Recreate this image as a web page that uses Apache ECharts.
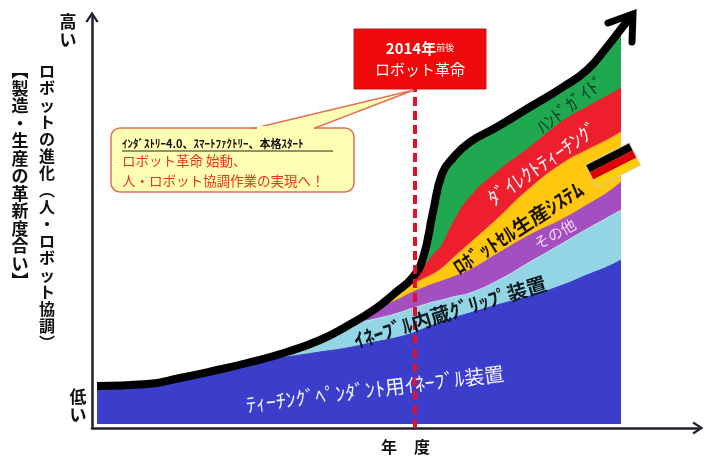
<!DOCTYPE html>
<html>
<head>
<meta charset="utf-8">
<style>html,body{margin:0;padding:0;background:#fff}#chart{width:709px;height:456px}</style>
<script src="https://cdn.jsdelivr.net/npm/echarts@6/dist/echarts.min.js"></script>
</head>
<body>
<div id="chart"></div>
<script>
// Fiscal-year position along the horizontal axis
const years = [5,55,88,121,155,195,228,255,283,303,321,331,341,350,361,378,405,438,471,495,515,529];
// Contribution of each technology to the innovation index
const pendantEnable = [38,40,46,53,61,67,72,76,82,86,91,95,99,102,106,111,119,128,139,149,157,164];
const gripEnable    = [0,0,0,0,0,5,12,22,23,24,25,24,23,22,21,20,24,34,42,46,49,50];
const others        = [0,0,0,0,0,0,0,0,10,13,16,17,18,19,20,23,27,27,24,24,25,28];
const robotCell     = [0,0,0,0,0,0,0,0,0,8,8,9,10,13,19,27,35,47,56,55,53,50];
const directTeach   = [0,0,0,0,0,0,0,0,0,0,7,11,19,23,35,46,47,41,42,43,44,44];
const handGuide     = [0,0,0,0,0,0,0,0,0,0,0,10,43,71,65,55,45,40,34,37,49,59];
const revolutionYear = 323;
const curveTip = [541, 410];
const arrowBarbs = [[516, 401], curveTip, [540, 382]];

const layerNames = ['ﾃｨｰﾁﾝｸﾞﾍﾟﾝﾀﾞﾝﾄ用ｲﾈｰﾌﾞﾙ装置','ｲﾈｰﾌﾞﾙ内蔵ｸﾞﾘｯﾌﾟ装置','その他','ﾛﾎﾞｯﾄｾﾙ生産ｼｽﾃﾑ','ﾀﾞｲﾚｸﾄﾃｨｰﾁﾝｸﾞ','ﾊﾝﾄﾞｶﾞｲﾄﾞ'];
const layerValues = [pendantEnable, gripEnable, others, robotCell, directTeach, handGuide];
const layerColors = ['#3a3ecb','#93d5e4','#a44fc0','#ffc80f','#ee1f2d','#1fa84f'];
const layerEdges  = ['#3a3ecb','#bfe6f0','#a44fc0','#f0a040','#ee1f2d','#1fa84f'];

const cjk = '"Noto Sans CJK JP","Noto Sans",sans-serif';
const smoothing = 0.5;

// Running totals: each band is painted from the baseline up to its own running total,
// the tallest first, so that the lower bands sit over it.
const running = [];
layerValues.forEach((vals, i) => {
  running.push(vals.map((v, k) => v + (i ? running[i - 1][k] : 0)));
});

const stackedAreas = layerValues.map((vals, i) => ({
  name: layerNames[i],
  type: 'line',
  smooth: smoothing,
  symbol: 'none',
  lineStyle: { width: 1, color: layerEdges[i] },
  itemStyle: { color: layerColors[i] },
  areaStyle: { color: layerColors[i], opacity: 1, origin: 0 },
  data: years.map((x, k) => [x, running[i][k]]),
  z: 2 + (layerValues.length - i) / 10
})).reverse();

// Outer curve follows the running total, then runs on to the arrow tip
const totals = years.map((x, k) => [x, running[running.length - 1][k]]);

const series = stackedAreas.concat([
  { type: 'line', name: 'total', smooth: smoothing, symbol: 'none', clip: false, z: 4,
    lineStyle: { color: '#000', width: 8 },
    data: totals.concat([curveTip]) },
  { type: 'line', name: 'arrow', symbol: 'none', clip: false, z: 4,
    lineStyle: { color: '#000', width: 7, join: 'miter', cap: 'round' },
    data: arrowBarbs },
  { type: 'line', name: 'revolution', symbol: 'none', clip: false, z: 5,
    lineStyle: { color: '#e3102c', width: 4, type: [9, 5] },
    data: [[revolutionYear, -4], [revolutionYear, 335]] }
]);

const chevron = 'path://M0 9 L6 0 L12 9 L10.2 10 L6 3.6 L1.8 10 Z';
const axisStyle = {
  show: true, onZero: false,
  lineStyle: { color: '#20202c', width: 2.5 },
  symbol: ['none', chevron], symbolSize: [14, 11]
};

function rotated(text, x, y, deg, size, color, weight) {
  return { type: 'text', x, y, rotation: deg * Math.PI / 180, z: 20,
    style: { text, x: 0, y: 0, align: 'center', verticalAlign: 'middle', fill: color,
             font: (weight || 'normal') + ' ' + size + 'px ' + cjk } };
}
function column(chars, x, y, size, weight, pitch) {
  return { type: 'text', x, y, z: 20,
    style: { text: chars.join('\n'), align: 'center', verticalAlign: 'top', fill: '#111',
             lineHeight: pitch, font: (weight || 'normal') + ' ' + size + 'px ' + cjk } };
}
function plain(text, x, y, size, color, weight) {
  return { type: 'text', x, y, z: 20,
    style: { text, align: 'left', verticalAlign: 'middle', fill: color,
             font: (weight || 'normal') + ' ' + size + 'px ' + cjk } };
}

const graphic = [
  // red title box
  { type: 'rect', z: 20, shape: { x: 354, y: 29, width: 132, height: 60 },
    style: { fill: '#ee0a0a', stroke: '#c01818', lineWidth: 1 } },
  { type: 'text', z: 21, x: 420, y: 48,
    style: { text: '{a|2014年}{b|前後}', align: 'center', verticalAlign: 'middle', fill: '#fff',
      rich: { a: { font: 'bold 15px ' + cjk, fill: '#fff' }, b: { font: 'normal 9px ' + cjk, fill: '#fff' } } } },
  { type: 'text', z: 21, x: 420, y: 69,
    style: { text: 'ロボット革命', align: 'center', verticalAlign: 'middle', fill: '#fff', font: 'normal 15px ' + cjk } },

  // speech bubble
  { type: 'rect', z: 18, shape: { x: 111, y: 128, width: 243, height: 64, r: 9 },
    style: { fill: '#ffffb4', stroke: '#e0705c', lineWidth: 1.5 } },
  { type: 'polygon', z: 18, shape: { points: [[255, 128], [414, 90], [315, 128]] },
    style: { fill: '#ffffb4', stroke: '#e0705c', lineWidth: 1.5 } },
  { type: 'rect', z: 19, shape: { x: 257, y: 126, width: 57, height: 4 }, style: { fill: '#ffffb4' } },
  plain('ｲﾝﾀﾞｽﾄﾘｰ4.0、ｽﾏｰﾄﾌｧｸﾄﾘｰ、本格ｽﾀｰﾄ', 122, 144, 11, '#111', 'bold'),
  { type: 'line', z: 20, shape: { x1: 122, y1: 151, x2: 333, y2: 151 }, style: { stroke: '#222', lineWidth: 1 } },
  plain('ロボット革命 始動、', 122, 161, 13.5, '#e8321e'),
  plain('人・ロボット協調作業の実現へ！', 122, 181, 13.5, '#e8321e'),

  // labels following the bands
  rotated('ﾃｨｰﾁﾝｸﾞﾍﾟﾝﾀﾞﾝﾄ用ｲﾈｰﾌﾞﾙ装置', 375, 389, 7, 20, '#f4f4ff'),
  rotated('ｲﾈｰﾌﾞﾙ内蔵ｸﾞﾘｯﾌﾟ装置', 450, 312, 17, 20, '#0c1a20', 'bold'),
  rotated('その他', 555, 234, 29, 15, '#f4d8f4'),
  rotated('ﾛﾎﾞｯﾄｾﾙ生産ｼｽﾃﾑ', 518, 228, 33, 20, '#1a1400', 'bold'),
  rotated('ﾀﾞｲﾚｸﾄﾃｨｰﾁﾝｸﾞ', 543, 163, 35, 20, '#fff0f0'),
  rotated('ﾊﾝﾄﾞｶﾞｲﾄﾞ', 571, 104, 38, 18, '#0a3a20'),

  // German flag
  { type: 'group', x: 613, y: 165, rotation: 27 * Math.PI / 180, z: 22, children: [
    { type: 'rect', z: 22, shape: { x: -25, y: -13, width: 50, height: 26 }, style: { fill: '#cfcfb0' } },
    { type: 'rect', z: 23, shape: { x: -24, y: -12, width: 48, height: 8 }, style: { fill: '#000' } },
    { type: 'rect', z: 23, shape: { x: -24, y: -4, width: 48, height: 8 }, style: { fill: '#dd0000' } },
    { type: 'rect', z: 23, shape: { x: -24, y: 4, width: 48, height: 8 }, style: { fill: '#ffce00' } }
  ] },

  // axis captions
  column(['高','い'], 68, 13, 17, 'bold', 17.5),
  column(['低','い'], 78, 388, 17, 'bold', 18),
  column(['ロ','ボ','ッ','ト','の','進','化','︵','人','・','ロ','ボ','ッ','ト','協','調','︶'], 47, 62, 16, 'bold', 17),
  column(['︻','製','造','・','生','産','の','革','新','度','合','い','︼'], 20, 62, 17, 'bold', 17.5),
  plain('年', 381, 447, 16, '#111', 'bold'),
  plain('度', 414, 447, 16, '#111', 'bold')
];

const option = {
  animation: false,
  backgroundColor: '#fff',
  grid: { left: 92, right: 11, top: 17, bottom: 28 },
  xAxis: { type: 'value', min: 0, max: 606, axisLine: axisStyle,
    axisTick: { show: false }, axisLabel: { show: false }, splitLine: { show: false } },
  yAxis: { type: 'value', min: -4, max: 407, axisLine: axisStyle,
    axisTick: { show: false }, axisLabel: { show: false }, splitLine: { show: false } },
  series,
  graphic
};
echarts.init(document.getElementById('chart')).setOption(option);
</script>
</body>
</html>
